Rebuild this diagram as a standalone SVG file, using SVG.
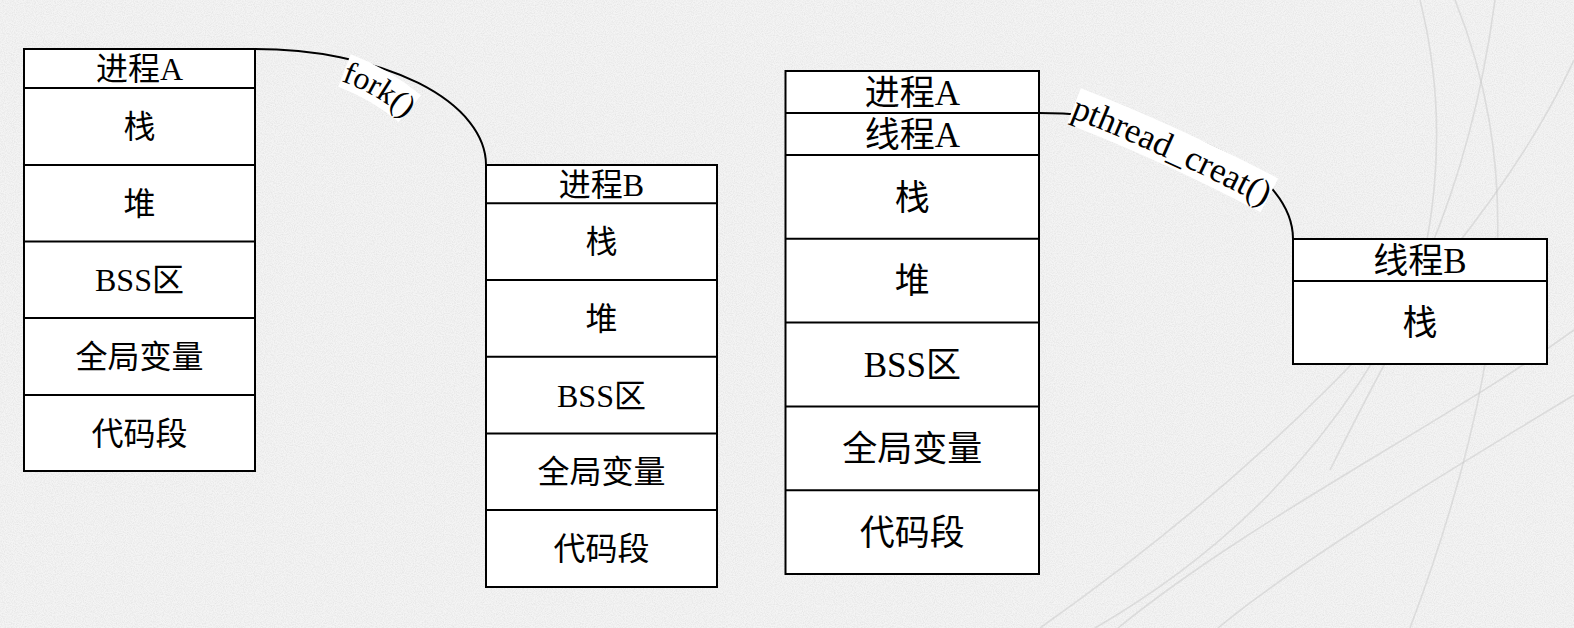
<svg xmlns="http://www.w3.org/2000/svg" width="1574" height="628" viewBox="0 0 1574 628">
  <style>
    .box { fill: #ffffff; stroke: #000000; stroke-width: 2; }
    .div { stroke: #000000; stroke-width: 2; }
    .lbl { font-family: "Liberation Serif", "Noto Sans CJK SC", serif; text-anchor: middle; fill: #000000; }
    .s32 { font-size: 32px; }
    .s35 { font-size: 35px; }
    .edge { fill: none; stroke: #000000; stroke-width: 2; }
    .band { fill: none; stroke: #ffffff; stroke-linecap: butt; }
    .elbl { font-family: "Liberation Serif", serif; fill: #000000; }
    .streak { fill: none; stroke: #c8c8c8; stroke-width: 1.6; stroke-opacity: 0.5; }
  </style>
  <defs>
    <filter id="grain" x="0" y="0" width="100%" height="100%">
      <feTurbulence type="fractalNoise" baseFrequency="0.9" numOctaves="2" seed="3" result="n"/>
      <feColorMatrix in="n" type="matrix" values="0 0 0 0 0.55  0 0 0 0 0.55  0 0 0 0 0.55  0 0 0 -1.6 1.05"/>
    </filter>
    <path id="forkPath" d="M341,81 Q380,95 410,123"/>
    <path id="pthreadPath" d="M1070,117 Q1167,155 1270,209"/>
  </defs>

  <!-- paper background -->
  <rect x="0" y="0" width="1574" height="628" fill="#f4f4f4"/>
  <rect x="0" y="0" width="1574" height="628" filter="url(#grain)" opacity="0.35"/>
  <g id="streaks">
    <path class="streak" d="M1455,0 C1515,150 1522,330 1410,628"/>
    <path class="streak" d="M1495,0 C1462,250 1350,480 1095,628"/>
    <path class="streak" d="M1574,60 C1500,220 1320,430 1040,628"/>
    <path class="streak" d="M1574,330 C1450,420 1250,520 1118,628"/>
    <path class="streak" d="M1574,395 C1450,470 1300,560 1218,628"/>
    <path class="streak" d="M1420,0 C1450,120 1440,260 1383,367 C1360,410 1345,440 1330,470"/>
  </g>

  <!-- connectors -->
  <g id="connectors">
    <path id="edge-fork" class="edge" d="M255,49 A231,116 0 0 1 486,165"/>
    <path class="band" d="M344.5,70.5 Q385,86 416,114" stroke-width="35" stroke-dasharray="76 400"/>
    <text class="elbl" font-size="32"><textPath href="#forkPath">fork()</textPath></text>

    <path id="edge-pthread" class="edge" d="M1039,113 A254,126 0 0 1 1293,239"/>
    <path class="band" d="M1074,106 Q1172,144 1275.5,198.5" stroke-width="38" stroke-dasharray="215 500"/>
    <text class="elbl" font-size="35"><textPath href="#pthreadPath">pthread_creat()</textPath></text>
  </g>

  <!-- parent process -->
  <g id="procA">
    <rect class="box" x="24" y="49" width="231" height="422"/>
    <line class="div" x1="24" y1="88" x2="255" y2="88"/>
    <line class="div" x1="24" y1="165" x2="255" y2="165"/>
    <line class="div" x1="24" y1="241.5" x2="255" y2="241.5"/>
    <line class="div" x1="24" y1="318" x2="255" y2="318"/>
    <line class="div" x1="24" y1="395" x2="255" y2="395"/>
    <text class="lbl s32" x="139.5" y="80">进程A</text>
    <text class="lbl s32" x="139.5" y="138">栈</text>
    <text class="lbl s32" x="139.5" y="214.5">堆</text>
    <text class="lbl s32" x="139.5" y="291">BSS区</text>
    <text class="lbl s32" x="139.5" y="368">全局变量</text>
    <text class="lbl s32" x="139.5" y="444.5">代码段</text>
  </g>

  <!-- forked child process -->
  <g id="procB">
    <rect class="box" x="486" y="165" width="231" height="422"/>
    <line class="div" x1="486" y1="203.3" x2="717" y2="203.3"/>
    <line class="div" x1="486" y1="280" x2="717" y2="280"/>
    <line class="div" x1="486" y1="356.7" x2="717" y2="356.7"/>
    <line class="div" x1="486" y1="433.4" x2="717" y2="433.4"/>
    <line class="div" x1="486" y1="510" x2="717" y2="510"/>
    <text class="lbl s32" x="601.5" y="195.5">进程B</text>
    <text class="lbl s32" x="601.5" y="253">栈</text>
    <text class="lbl s32" x="601.5" y="330">堆</text>
    <text class="lbl s32" x="601.5" y="406.5">BSS区</text>
    <text class="lbl s32" x="601.5" y="483">全局变量</text>
    <text class="lbl s32" x="601.5" y="560">代码段</text>
  </g>

  <!-- process with main thread -->
  <g id="procThreadA">
    <rect class="box" x="785.5" y="71" width="253.5" height="503"/>
    <line class="div" x1="785.5" y1="113" x2="1039" y2="113"/>
    <line class="div" x1="785.5" y1="155" x2="1039" y2="155"/>
    <line class="div" x1="785.5" y1="238.8" x2="1039" y2="238.8"/>
    <line class="div" x1="785.5" y1="322.6" x2="1039" y2="322.6"/>
    <line class="div" x1="785.5" y1="406.4" x2="1039" y2="406.4"/>
    <line class="div" x1="785.5" y1="490.2" x2="1039" y2="490.2"/>
    <text class="lbl s35" x="912.3" y="104.5">进程A</text>
    <text class="lbl s35" x="912.3" y="146.5">线程A</text>
    <text class="lbl s35" x="912.3" y="209.5">栈</text>
    <text class="lbl s35" x="912.3" y="293.3">堆</text>
    <text class="lbl s35" x="912.3" y="377">BSS区</text>
    <text class="lbl s35" x="912.3" y="460.8">全局变量</text>
    <text class="lbl s35" x="912.3" y="544.6">代码段</text>
  </g>

  <!-- created thread -->
  <g id="threadB">
    <rect class="box" x="1293" y="239" width="254" height="125"/>
    <line class="div" x1="1293" y1="281" x2="1547" y2="281"/>
    <text class="lbl s35" x="1420" y="272.5">线程B</text>
    <text class="lbl s35" x="1420" y="335">栈</text>
  </g>
</svg>
